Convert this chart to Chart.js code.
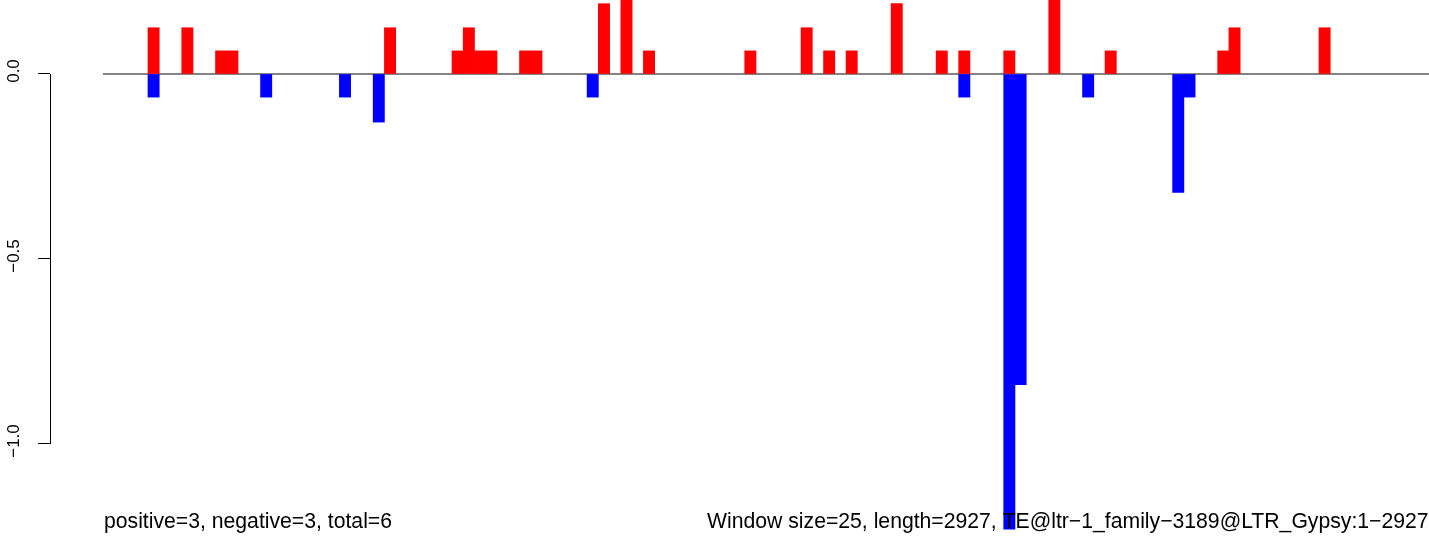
<!DOCTYPE html>
<html lang="en">
<head>
<meta charset="UTF-8">
<title>Window scores</title>
<script src="https://cdn.jsdelivr.net/npm/chart.js@4.4.0/dist/chart.umd.min.js"></script>
<style>
  html, body { margin: 0; padding: 0; background: #fff; }
  canvas { display: block; }
</style>
</head>
<body>
<canvas id="bars" width="1429" height="540"></canvas>
<script>
// 25 bp windows, index of the window -> score
const posWindows = [0, 3, 6, 7, 21, 27, 28, 29, 30, 33, 34, 40, 42, 44, 53, 58, 60, 62, 66, 70, 72, 76, 80, 85, 95, 96, 104];
const posScores  = [0.125, 0.125, 0.0625, 0.0625, 0.125, 0.0625, 0.125, 0.0625, 0.0625, 0.0625, 0.0625, 0.19, 0.25, 0.0625,
                    0.0625, 0.125, 0.0625, 0.0625, 0.19, 0.0625, 0.0625, 0.0625, 0.25, 0.0625, 0.0625, 0.125, 0.125];
const negWindows = [0, 10, 17, 20, 39, 72, 76, 77, 83, 91, 92];
const negScores  = [-0.0625, -0.0625, -0.0625, -0.13, -0.0625, -0.0625, -1.23, -0.84, -0.0625, -0.32, -0.0625];
const yTicks = [0, -0.5, -1.0];
const leftNote  = 'positive=3, negative=3, total=6';
const rightNote = 'Window size=25, length=2927, TE@ltr\u22121_family\u22123189@LTR_Gypsy:1\u22122927';

const FONT = '"Liberation Sans", Arial, Helvetica, sans-serif';

// R style y axis: the line only runs from first to last tick
const axisLine = {
    id: 'axisLine',
    afterDraw(chart) {
        const y = chart.scales.y, ctx = chart.ctx;
        const x = chart.chartArea.left + 0.5;
        ctx.save();
        ctx.strokeStyle = '#000';
        ctx.lineWidth = 1;
        ctx.beginPath();
        ctx.moveTo(x, y.getPixelForValue(yTicks[0]));
        ctx.lineTo(x, y.getPixelForValue(yTicks[yTicks.length - 1]));
        ctx.stroke();
        ctx.restore();
    }
};

// the two notes under the plot
const notes = {
    id: 'notes',
    afterDraw(chart) {
        const ctx = chart.ctx;
        ctx.save();
        ctx.font = '21.2px ' + FONT;
        ctx.fillStyle = '#000';
        ctx.textBaseline = 'alphabetic';
        ctx.fillText(leftNote, 104, 528);
        ctx.fillText(rightNote, 707, 528);
        ctx.restore();
    }
};

new Chart(document.getElementById('bars'), {
    type: 'bar',
    data: {
        datasets: [
            {
                type: 'line',
                data: [{ x: -4.5, y: 0 }, { x: 114, y: 0 }],
                borderColor: '#5a5a5a',
                borderWidth: 1.5,
                pointRadius: 0,
                fill: false,
                order: 3
            },
            {
                label: 'positive',
                data: posWindows.map((w, i) => ({ x: w, y: posScores[i] })),
                backgroundColor: '#ff0000',
                order: 1
            },
            {
                label: 'negative',
                data: negWindows.map((w, i) => ({ x: w, y: negScores[i] })),
                backgroundColor: '#0000ff',
                order: 1
            }
        ]
    },
    options: {
        responsive: false,
        animation: false,
        layout: { padding: 0 },
        datasets: {
            bar: { barPercentage: 1, categoryPercentage: 1, borderWidth: 0, grouped: false }
        },
        plugins: {
            legend: { display: false },
            tooltip: { enabled: false }
        },
        scales: {
            x: {
                type: 'linear',
                display: false,
                offset: false,
                min: -9.2,
                max: 113.27,
                ticks: { includeBounds: false }
            },
            y: {
                min: -1.2595,
                max: 0.2,
                afterBuildTicks(s) { s.ticks = yTicks.map(v => ({ value: v })); },
                afterFit(s) { s.width = 50; s.paddingTop = 0; s.paddingBottom = 0; },
                border: { display: false },
                grid: { drawOnChartArea: false, tickLength: 12, color: '#000', lineWidth: 1 },
                ticks: {
                    minRotation: 90,
                    maxRotation: 90,
                    crossAlign: 'center',
                    padding: 7,
                    labelOffset: -3,
                    color: '#000',
                    font: { family: FONT, size: 17 },
                    callback: v => v.toFixed(1).replace('-', '\u2212')
                }
            }
        }
    },
    plugins: [axisLine, notes]
});
</script>
</body>
</html>
